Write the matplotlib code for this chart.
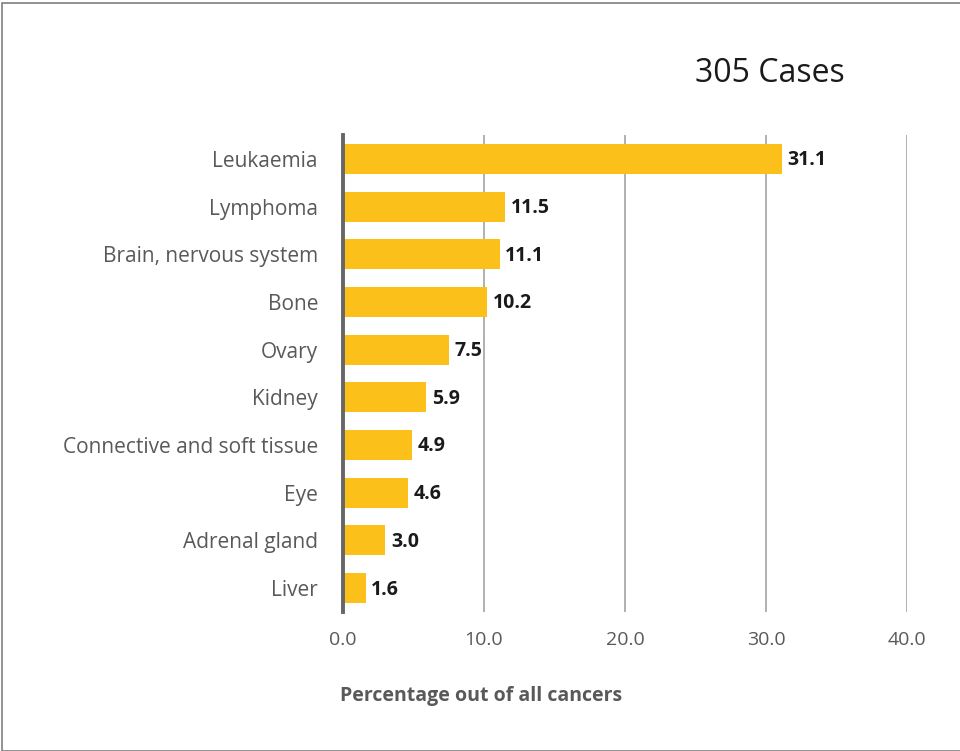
import matplotlib
matplotlib.use("Agg")
import matplotlib.pyplot as plt
from matplotlib.patches import Rectangle

# Data
sites = ['Leukaemia', 'Lymphoma', 'Brain, nervous system', 'Bone', 'Ovary',
         'Kidney', 'Connective and soft tissue', 'Eye', 'Adrenal gland', 'Liver']
pct = [31.1, 11.5, 11.1, 10.2, 7.5, 5.9, 4.9, 4.6, 3.0, 1.6]
xticks = [0, 10, 20, 30, 40]

plt.rcParams['font.family'] = ['Open Sans', 'DejaVu Sans']
grey = '#595959'

fig = plt.figure(figsize=(9.6, 7.51), dpi=100)
ax = fig.add_axes([343/960, 1 - 612/751, (907-343)/960, (612-135)/751])

ypos = list(range(len(sites)))
ax.barh(ypos, pct, height=0.63, color='#FBC01A', zorder=3)
for y, v in zip(ypos, pct):
    ax.annotate('{:.1f}'.format(v), (v, y), xytext=(4, -1), textcoords='offset points',
                ha='left', va='center', fontsize=14, fontweight='bold', color='#1a1a1a')

ax.set_ylim(len(sites) - 0.5, -0.5)
ax.set_xlim(0, 40)
ax.set_yticks(ypos)
ax.set_yticklabels(sites, fontsize=15, color=grey)
ax.set_xticks(xticks)
ax.set_xticklabels(['{:.1f}'.format(t) for t in xticks], fontsize=14, color=grey)
ax.tick_params(length=0, pad=18, axis='y')
ax.tick_params(length=0, pad=14, axis='x')
ax.grid(axis='x', color='#b0b0b0', linewidth=1.4, zorder=0)
for s in ['top', 'right', 'bottom']:
    ax.spines[s].set_visible(False)
ax.spines['left'].set_color('#666666')
ax.spines['left'].set_linewidth(2.8)
ax.spines['left'].set_zorder(4)

fig.text(481/960, 1 - 696/751, 'Percentage out of all cancers', fontsize=14,
         fontweight='bold', color=grey, ha='center', va='center')

fig.text(845/960, 1 - 74/751, '305 Cases', fontsize=23, color='#1a1a1a',
         ha='right', va='center')

fig.patches.append(Rectangle((2/960, 0), 1, 1 - 3/751, transform=fig.transFigure,
                             fill=False, edgecolor='#7f7f7f', linewidth=1.2))

fig.savefig('out.png', dpi=100)
